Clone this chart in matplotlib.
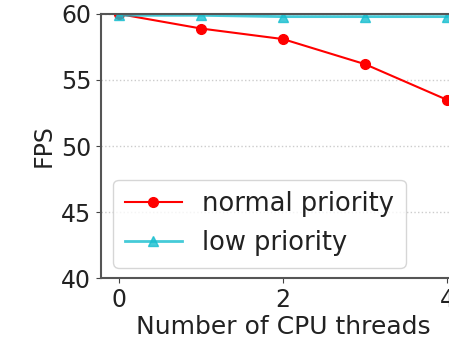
import matplotlib.pyplot as plt

threads = [0, 1, 2, 3, 4]
normal_fps = [60.0, 58.9, 58.1, 56.2, 53.5]
low_fps = [59.9, 59.9, 59.8, 59.8, 59.8]

fig = plt.figure(figsize=(4.49, 3.49), dpi=100)
# axes run past the right edge like the cropped original
ax = fig.add_axes([101 / 449, 71 / 349, 364 / 449, 264 / 349])

ax.plot(threads, normal_fps, color='red', marker='o', markersize=7,
        linewidth=1.5, label='normal priority')
ax.plot(threads, low_fps, color='#17becf', marker='^', markersize=7,
        linewidth=2, alpha=0.8, label='low priority')

ax.set_xlim(-0.22, 4.22)
ax.set_ylim(40, 60)
ax.set_xticks([0, 2, 4])
ax.set_yticks([40, 45, 50, 55, 60])
ax.tick_params(labelsize=17, color='#444444', labelcolor='#222222')
ax.grid(axis='y', linestyle=':', color='#cccccc', linewidth=1)
ax.set_axisbelow(True)
for s in ax.spines.values():
    s.set_color('#555555')
    s.set_linewidth(1.5)

ax.set_xlabel('Number of CPU threads', fontsize=18, labelpad=2, color='#222222')
ax.set_ylabel('FPS', fontsize=17, color='#222222')
leg = ax.legend(loc='lower left', bbox_to_anchor=(0.02, 0.02), fontsize=18.5,
                handlelength=2.2, borderaxespad=0.2, borderpad=0.45)
for t in leg.get_texts():
    t.set_color('#222222')

fig.savefig('out.png', dpi=100)
